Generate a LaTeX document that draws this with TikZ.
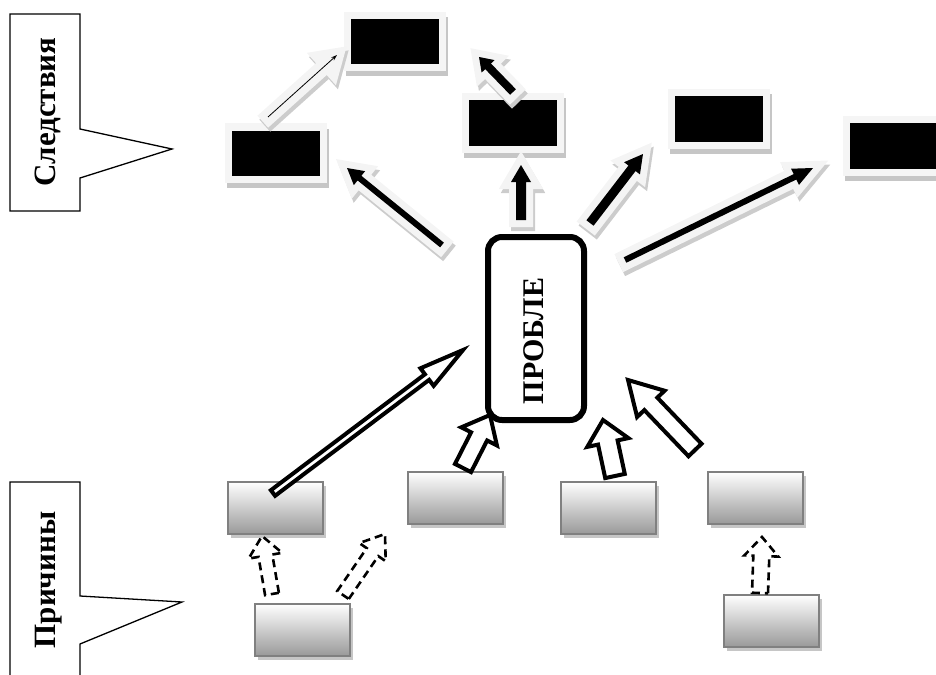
\documentclass[tikz,border=0pt]{standalone}
\usepackage{fontspec}
\setmainfont{Liberation Serif}
\usetikzlibrary{calc,arrows.meta}

% block arrow: [style]{tail}{tip}{shaft half width}{head half width}{head length}
\newcommand{\blockarr}[6][]{%
  \path let \p1=($(#3)-(#2)$) in \pgfextra{%
    \pgfmathparse{atan2(\y1,\x1)}\xdef\baang{\pgfmathresult}%
    \pgfmathparse{veclen(\x1,\y1)}\xdef\balen{\pgfmathresult}};
  \begin{scope}[shift={(#2)}, rotate=\baang]
    \path[#1] (0,#4) -- ({\balen-#6},#4) -- ({\balen-#6},#5) -- (\balen,0)
      -- ({\balen-#6},-#5) -- ({\balen-#6},-#4) -- (0,-#4) -- cycle;
  \end{scope}}

\tikzset{
  callout/.style={draw, line width=1.3pt},
  sidelabel/.style={rotate=90, font=\bfseries\fontsize{31}{31}\selectfont, inner sep=0pt},
  topbox/.style={fill=black, draw=gray!8, line width=7pt, minimum width=95pt,
    minimum height=52pt, inner sep=0pt,
    preaction={fill=gray!45, draw=gray!45, line width=7pt,
      transform canvas={shift={(2pt,-5pt)}}}},
  causebox/.style={draw=gray, line width=2pt, top color=white, bottom color=gray!80,
    minimum width=95pt, minimum height=52pt, inner sep=0pt,
    preaction={fill=gray!45, transform canvas={shift={(3pt,-4pt)}}}},
  probbox/.style={draw, line width=6pt, rounded corners=14pt, fill=white,
    minimum width=96pt, minimum height=183pt, inner sep=0pt},
  probtext/.style={rotate=90, font=\bfseries\fontsize{30}{30}\selectfont, inner sep=0pt},
  arrshadow/.style={fill=gray!40, draw=gray!40, line width=14pt, line join=miter,
    transform canvas={shift={(2pt,-4pt)}}},
  arrglow/.style={fill=gray!9, draw=gray!9, line width=14pt, line join=miter},
  halo/.style={preaction={arrshadow}, preaction={arrglow}},
  glowarr/.style={halo, fill=black},
  outarr/.style={draw, line width=4pt, fill=white, line join=miter},
  dasharr/.style={draw, line width=2.6pt, dash pattern=on 8pt off 5pt},
}

\begin{document}
\begin{tikzpicture}[x=1pt, y=-1pt]
\useasboundingbox (0,0) rectangle (936,674);

% side callouts
\draw[callout] (10,14) -- (80,14) -- (80,129) -- (172,149) -- (80,178)
  -- (80,211) -- (10,211) -- cycle;
\node[sidelabel] (cons) at (48,112) {Следствия};
\draw[callout] (10,690) -- (10,482) -- (80,482) -- (80,596) -- (182,602)
  -- (80,644) -- (80,690);
\node[sidelabel] (caus) at (49,580) {Причины};

% consequences
\node[topbox] (conA) at (395,42) {};
\node[topbox] (conB) at (276,153) {};
\node[topbox] (conC) at (513,123) {};
\node[topbox] (conD) at (719,119) {};
\node[topbox] (conE) at (894,146) {};

% causes
\node[causebox] (cau1) at (275,508) {};
\node[causebox] (cau2) at (455,498) {};
\node[causebox] (cau3) at (608,508) {};
\node[causebox] (cau4) at (755,498) {};
\node[causebox] (cau5) at (302,630) {};
\node[causebox] (cau6) at (771,621) {};

% arrow ends
\coordinate (u1t) at (442,245); \coordinate (u1h) at (347,168);
\coordinate (u2t) at (268,117); \coordinate (u2h) at (337,55);
\coordinate (u3t) at (513,92);  \coordinate (u3h) at (479,57);
\coordinate (u4t) at (521,220); \coordinate (u4h) at (521,165);
\coordinate (u5t) at (590,223); \coordinate (u5h) at (643,154);
\coordinate (u6t) at (625,260); \coordinate (u6h) at (813,168);
\coordinate (d1t) at (273,493); \coordinate (d1h) at (463,350);
\coordinate (d2t) at (463,468); \coordinate (d2h) at (490,415);
\coordinate (d3t) at (615,476); \coordinate (d3h) at (603,420);
\coordinate (d4t) at (695,450); \coordinate (d4h) at (628,380);
\coordinate (e1t) at (272,594); \coordinate (e1h) at (262,536);
\coordinate (e2t) at (343,595); \coordinate (e2h) at (385,534);
\coordinate (e3t) at (760,593); \coordinate (e3h) at (762,537);

% consequence arrows
\blockarr[glowarr]{u1t}{u1h}{3}{9}{16}
\blockarr[halo]{u2t}{u2h}{1}{9}{14}
\draw[line width=0.8pt, -{Stealth[length=6pt,width=4pt]}] (u2t) -- (u2h);
\blockarr[glowarr]{u3t}{u3h}{4}{9}{13}
\blockarr[glowarr]{u4t}{u4h}{5}{10}{17}
\blockarr[glowarr]{u5t}{u5h}{4.5}{10}{18}
\blockarr[glowarr]{u6t}{u6h}{3}{9}{20}

% the problem
\node[probbox] (prob) at (536,328.5) {};
\node[probtext] (probt) at (534,341) {ПРОБЛЕ};

% cause arrows
\blockarr[outarr]{d1t}{d1h}{3.5}{11}{45}
\blockarr[outarr]{d2t}{d2h}{9}{20}{24}
\blockarr[outarr]{d3t}{d3h}{10}{21}{23}
\blockarr[outarr]{d4t}{d4h}{9}{19}{33}
\blockarr[dasharr]{e1t}{e1h}{7}{17}{20}
\blockarr[dasharr]{e2t}{e2h}{7}{16}{22}
\blockarr[dasharr]{e3t}{e3h}{8}{17}{19}

\end{tikzpicture}
\end{document}
